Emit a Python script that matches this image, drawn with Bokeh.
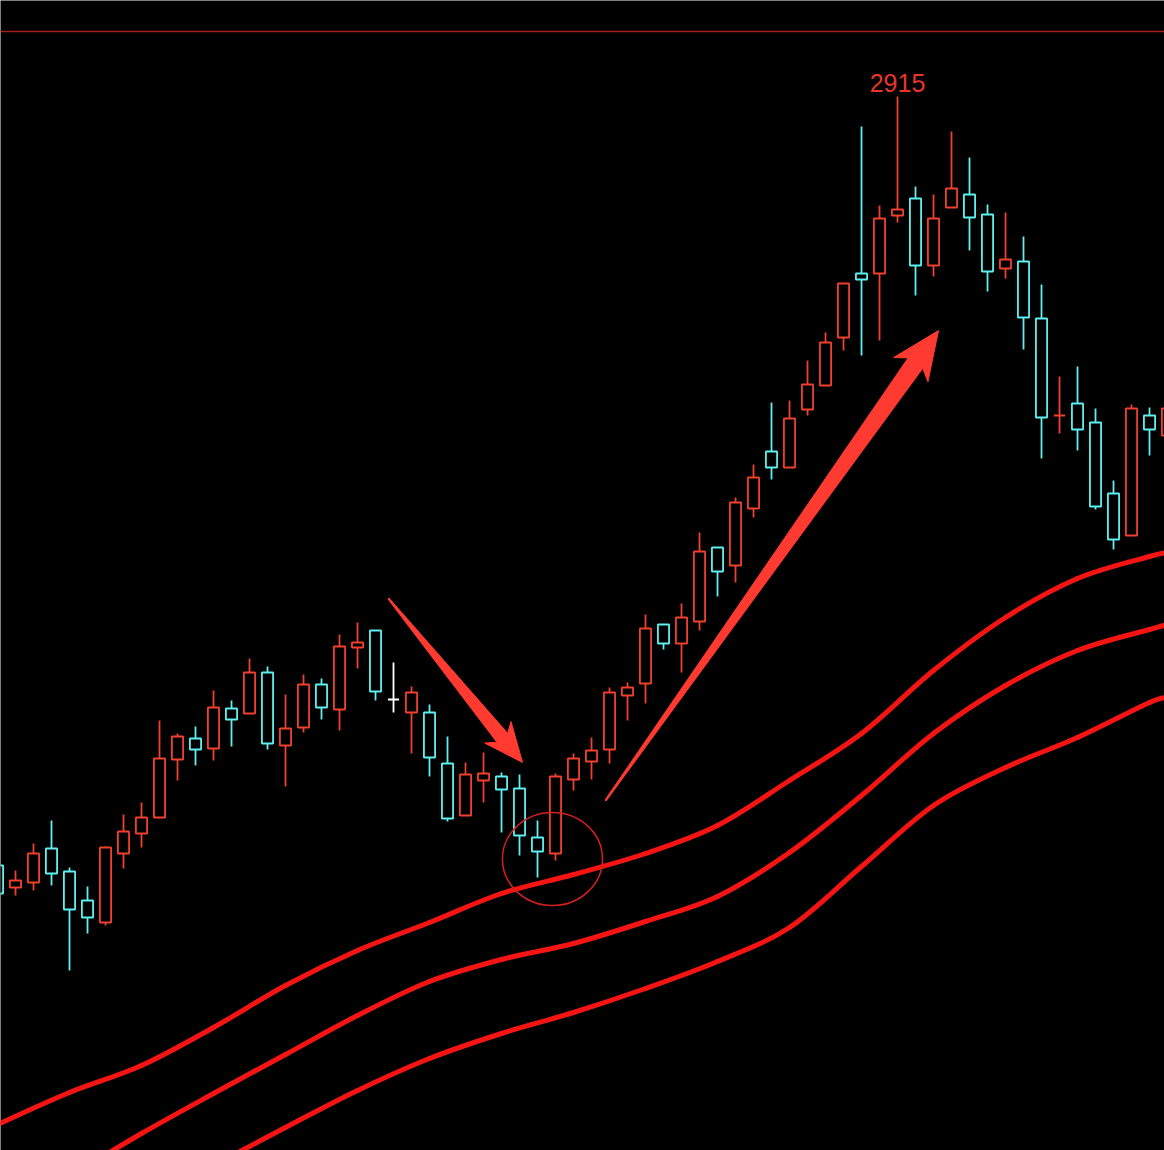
import math
from bokeh.plotting import figure
from bokeh.models import Range1d, ColumnDataSource, Span
from bokeh.embed import file_html
from bokeh.resources import INLINE
from bokeh.core.properties import value

# ---------------- data ----------------
day = list(range(66))
opens = [2146, 2124, 2129, 2163, 2140, 2111, 2089, 2158, 2178, 2194,
         2252, 2273, 2263, 2303, 2298, 2339, 2266, 2284, 2327, 2302,
         2364, 2381, 2312, 2299, 2299, 2248, 2196, 2231, 2235, 2223,
         2174, 2158, 2232, 2250, 2262, 2316, 2328, 2387, 2368, 2390,
         2464, 2446, 2503, 2560, 2544, 2602, 2626, 2674, 2738, 2738,
         2796, 2813, 2746, 2804, 2817, 2797, 2743, 2750, 2693, 2596,
         2608, 2589, 2518, 2476, 2596, 2576]
closes = [2118, 2131, 2158, 2138, 2102, 2094, 2164, 2180, 2194, 2253,
          2275, 2262, 2304, 2292, 2339, 2268, 2283, 2327, 2304, 2365,
          2369, 2320, 2312, 2319, 2254, 2193, 2237, 2238, 2222, 2176,
          2160, 2235, 2253, 2261, 2319, 2324, 2383, 2368, 2394, 2460,
          2440, 2509, 2534, 2544, 2593, 2627, 2669, 2728, 2732, 2793,
          2802, 2746, 2793, 2823, 2794, 2740, 2752, 2694, 2594, 2596,
          2582, 2505, 2472, 2603, 2582, 2603]
highs = [2151, 2141, 2168, 2191, 2144, 2125, 2165, 2197, 2209, 2291,
         2278, 2285, 2321, 2311, 2353, 2345, 2317, 2337, 2333, 2377,
         2389, 2381, 2349, 2325, 2307, 2275, 2249, 2259, 2239, 2237,
         2191, 2238, 2258, 2274, 2324, 2329, 2397, 2387, 2408, 2479,
         2464, 2514, 2547, 2609, 2611, 2651, 2679, 2728, 2885, 2806,
         2915, 2825, 2817, 2880, 2854, 2807, 2799, 2775, 2727, 2635,
         2645, 2603, 2531, 2607, 2604, 2610]
lows = [2115, 2116, 2121, 2126, 2041, 2078, 2086, 2143, 2164, 2193,
        2231, 2246, 2251, 2265, 2298, 2262, 2225, 2279, 2292, 2281,
        2343, 2311, 2299, 2258, 2235, 2190, 2196, 2209, 2179, 2156,
        2134, 2151, 2221, 2232, 2248, 2291, 2308, 2362, 2339, 2381,
        2415, 2429, 2494, 2532, 2544, 2596, 2626, 2661, 2656, 2671,
        2789, 2716, 2735, 2804, 2761, 2720, 2733, 2662, 2553, 2578,
        2561, 2502, 2462, 2476, 2556, 2570]

ma1_day = [0, 4, 8, 12, 16, 20, 24, 28, 32, 36, 40, 44, 48, 52, 56, 60, 64, 65]
ma1 = [1887, 1919, 1946, 1984, 2026, 2061, 2089, 2118, 2137, 2158,
       2186, 2231, 2278, 2341, 2394, 2433, 2455, 2459]
ma2_day = [4, 8, 12, 16, 20, 24, 28, 32, 36, 40, 44, 48, 52, 56, 60, 64, 65]
ma2 = [1835, 1878, 1918, 1957, 1996, 2030, 2052, 2068, 2090, 2115,
       2159, 2216, 2278, 2326, 2361, 2382, 2387]
ma3_day = [12, 16, 20, 24, 28, 32, 36, 40, 44, 48, 52, 56, 60, 64, 65]
ma3 = [1846, 1884, 1921, 1953, 1978, 1999, 2023, 2050, 2084, 2145,
       2206, 2244, 2274, 2309, 2314]

top_line_level = 2980
peak_label = "2915"
peak_day = 50
# annotation anchors (day, price)
down_arrow = [(21.72, 2413), (29.17, 2249)]
up_arrow = [(33.78, 2211), (52.28, 2681)]
circle_center = (30.83, 2152.5)
circle_size = (5.56, 93)

# ---------------- styling ----------------
RED = "#f0402e"
CYAN = "#5ef0f0"
WHITE = "#ffffff"
MA_RED = "#f41414"
ARROW_RED = "#ff3a30"

W, H = 1164, 1150
x0, x1 = 0.1667, 64.833
y0, y1 = 1861, 3011

p = figure(width=W, height=H, output_backend="svg", toolbar_location=None,
           x_range=Range1d(x0, x1), y_range=Range1d(y0, y1),
           background_fill_color="#000000", border_fill_color="#000000",
           min_border=0, outline_line_color=None)
p.axis.visible = False
p.grid.visible = False

colors = []
for i in day:
    if closes[i] > opens[i]:
        colors.append(RED)
    elif closes[i] < opens[i]:
        colors.append(CYAN)
    else:
        prev = closes[i - 1] if i > 0 else closes[i]
        colors.append(RED if closes[i] > prev else WHITE)

src = ColumnDataSource(dict(
    x=day, o=opens, c=closes, h=highs, l=lows,
    top=[max(a, b) for a, b in zip(opens, closes)],
    bot=[min(a, b) for a, b in zip(opens, closes)],
    left=[d - 0.31 for d in day], right=[d + 0.31 for d in day],
    color=colors))


# moving average lines drawn as smooth curves through the read points
def smooth_curve(xs, ys):
    n = len(xs)
    seg = dict(x0=[], y0=[], x1=[], y1=[], cx0=[], cy0=[], cx1=[], cy1=[])
    for k in range(n - 1):
        xa, ya = xs[k], ys[k]
        xb, yb = xs[k + 1], ys[k + 1]
        xp, yp = (xs[k - 1], ys[k - 1]) if k > 0 else (xa, ya)
        xn, yn = (xs[k + 2], ys[k + 2]) if k + 2 < n else (xb, yb)
        seg["x0"].append(xa); seg["y0"].append(ya)
        seg["x1"].append(xb); seg["y1"].append(yb)
        seg["cx0"].append(xa + (xb - xp) / 6.0); seg["cy0"].append(ya + (yb - yp) / 6.0)
        seg["cx1"].append(xb - (xn - xa) / 6.0); seg["cy1"].append(yb - (yn - ya) / 6.0)
    return seg


for mx, my in ((ma3_day, ma3), (ma2_day, ma2), (ma1_day, ma1)):
    p.bezier(source=ColumnDataSource(smooth_curve(mx, my)), x0="x0", y0="y0",
             x1="x1", y1="y1", cx0="cx0", cy0="cy0", cx1="cx1", cy1="cy1",
             line_color=MA_RED, line_width=5, line_cap="round")

# candles
p.segment(x0="x", y0="h", x1="x", y1="l", source=src, line_color="color", line_width=1.8)
p.quad(left="left", right="right", top="top", bottom="bot", source=src,
       fill_color="#000000", line_color="color", line_width=1.8)

# top line
p.add_layout(Span(location=top_line_level, dimension="width",
                  line_color="#a51c1c", line_width=1.5))

# peak label
p.text(x=[peak_day], y=[highs[peak_day] + 5], text=[peak_label],
       text_font=value("Liberation Sans"), text_font_size="25px",
       text_color="#e8352c", text_align="center", text_baseline="bottom")

# circle
p.ellipse(x=[circle_center[0]], y=[circle_center[1]], width=circle_size[0],
          height=circle_size[1], fill_color=None, line_color="#d42020", line_width=1.5)

# arrows (shape computed in screen pixels)
sx = W / (x1 - x0)
sy = H / (y1 - y0)


def arrow_poly(tail, tip, w0, w1, L, Hh, back):
    tx, ty = (tail[0] - x0) * sx, (tail[1] - y0) * sy
    hx, hy = (tip[0] - x0) * sx, (tip[1] - y0) * sy
    dx, dy = hx - tx, hy - ty
    n = math.hypot(dx, dy)
    ux, uy = dx / n, dy / n
    px_, py_ = -uy, ux
    bx, by = hx - ux * L, hy - uy * L
    pts = [
        (tx + px_ * w0, ty + py_ * w0),
        (bx + px_ * w1, by + py_ * w1),
        (bx - ux * back + px_ * Hh, by - uy * back + py_ * Hh),
        (hx, hy),
        (bx - ux * back - px_ * Hh, by - uy * back - py_ * Hh),
        (bx - px_ * w1, by - py_ * w1),
        (tx - px_ * w0, ty - py_ * w0),
    ]
    xs = [q[0] / sx + x0 for q in pts]
    ys = [q[1] / sy + y0 for q in pts]
    return xs, ys


axs, ays = arrow_poly(down_arrow[0], down_arrow[1], 0.7, 7, 32, 17, 7)
bxs, bys = arrow_poly(up_arrow[0], up_arrow[1], 0.7, 9, 40, 21, 8)
p.patches([axs, bxs], [ays, bys], fill_color=ARROW_RED, line_color=ARROW_RED, line_width=1)

open("out.html", "w").write(file_html(p, INLINE))
